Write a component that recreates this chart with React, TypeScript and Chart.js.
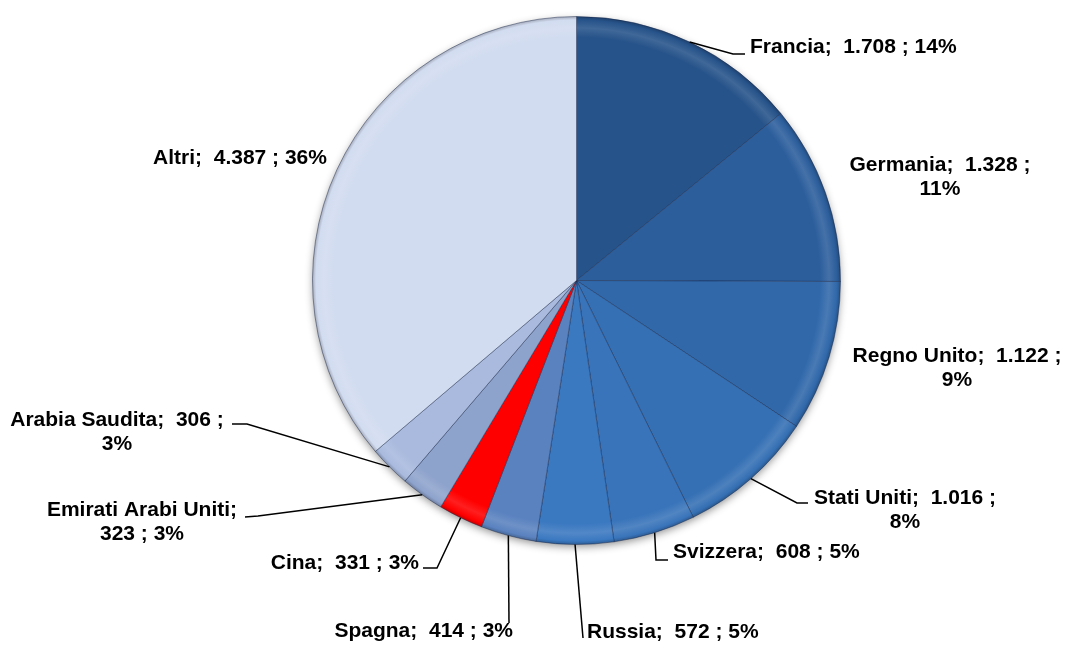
import React, { useEffect, useRef } from "react";
import { Chart, registerables } from "chart.js";

Chart.register(...registerables);

// ---- data ----
const countries = [
  "Francia",
  "Germania",
  "Regno Unito",
  "Stati Uniti",
  "Svizzera",
  "Russia",
  "Spagna",
  "Cina",
  "Emirati Arabi Uniti",
  "Arabia Saudita",
  "Altri",
];
const amounts = [1708, 1328, 1122, 1016, 608, 572, 414, 331, 323, 306, 4387];
const sliceColors = [
  "#26538a",
  "#2c5e9c",
  "#3068aa",
  "#3570b4",
  "#3974ba",
  "#3a78c0",
  "#5a82bf",
  "#ff0000",
  "#8ea3cc",
  "#a9bade",
  "#d2dcf0",
];

// ---- label layout (pixel placement of each data label) ----
// align: l/c/r ; wrap: 0 single line, 1 break before %, 2 break before value
type LabelLayout = {
  x: number;
  y: number;
  align: "left" | "center" | "right";
  wrap: 0 | 1 | 2;
  leader: number[][];
};
const labelLayout: LabelLayout[] = [
  { x: 750, y: 47, align: "left", wrap: 0, leader: [[733, 54], [745, 54]] },
  { x: 940, y: 165, align: "center", wrap: 1, leader: [] },
  { x: 957, y: 356, align: "center", wrap: 1, leader: [] },
  { x: 905, y: 498, align: "center", wrap: 1, leader: [[797, 503], [808, 503]] },
  { x: 673, y: 552, align: "left", wrap: 0, leader: [[656, 560], [668, 560]] },
  { x: 587, y: 632, align: "left", wrap: 0, leader: [[583, 638]] },
  { x: 513, y: 631, align: "right", wrap: 0, leader: [[509, 623]] },
  { x: 419, y: 563, align: "right", wrap: 0, leader: [[437, 568], [423, 568]] },
  { x: 142, y: 510, align: "center", wrap: 2, leader: [[258, 516], [245, 517]] },
  { x: 117, y: 420, align: "center", wrap: 1, leader: [[247, 424], [232, 424]] },
  { x: 240, y: 158, align: "center", wrap: 0, leader: [] },
];

const LABEL_FONT = 'bold 21px "Liberation Sans", Arial, sans-serif';
const LINE_H = 24;

function fmtIt(v: number): string {
  return v.toString().replace(/\B(?=(\d{3})+(?!\d))/g, ".");
}

function shade(hex: string, amt: number): string {
  const n = parseInt(hex.slice(1), 16);
  let r = (n >> 16) & 255,
    g = (n >> 8) & 255,
    b = n & 255;
  if (amt >= 0) {
    r = Math.round(r + (255 - r) * amt);
    g = Math.round(g + (255 - g) * amt);
    b = Math.round(b + (255 - b) * amt);
  } else {
    r = Math.round(r * (1 + amt));
    g = Math.round(g * (1 + amt));
    b = Math.round(b * (1 + amt));
  }
  return `rgb(${r},${g},${b})`;
}

const shadowPlugin = {
  id: "pieShadow",
  beforeDatasetsDraw(chart: any) {
    const meta = chart.getDatasetMeta(0);
    const arc = meta.data[0];
    if (!arc) return;
    const ctx = chart.ctx as CanvasRenderingContext2D;
    ctx.save();
    ctx.shadowColor = "rgba(0,0,0,0.45)";
    ctx.shadowBlur = 9;
    ctx.shadowOffsetX = 0;
    ctx.shadowOffsetY = 3;
    ctx.fillStyle = "#ffffff";
    ctx.beginPath();
    ctx.arc(arc.x, arc.y, arc.outerRadius - 1, 0, Math.PI * 2);
    ctx.fill();
    ctx.restore();
  },
};

const labelPlugin = {
  id: "pieLabels",
  afterDatasetsDraw(chart: any) {
    const meta = chart.getDatasetMeta(0);
    const ctx = chart.ctx as CanvasRenderingContext2D;
    const total = amounts.reduce((a, b) => a + b, 0);
    ctx.save();
    ctx.font = LABEL_FONT;
    ctx.fillStyle = "#000";
    ctx.strokeStyle = "#000";
    ctx.lineWidth = 1.5;
    ctx.textBaseline = "middle";
    meta.data.forEach((arc: any, i: number) => {
      const lay = labelLayout[i];
      const pct = Math.round((amounts[i] / total) * 100) + "%";
      const namePart = countries[i] + ";";
      const valPart = fmtIt(amounts[i]) + " ;";
      let lines: string[];
      if (lay.wrap === 0) lines = [namePart + "  " + valPart + " " + pct];
      else if (lay.wrap === 1) lines = [namePart + "  " + valPart, pct];
      else lines = [namePart, valPart + " " + pct];

      // leader line
      if (lay.leader.length) {
        const mid = (arc.startAngle + arc.endAngle) / 2;
        const px = arc.x + Math.cos(mid) * arc.outerRadius;
        const py = arc.y + Math.sin(mid) * arc.outerRadius;
        ctx.beginPath();
        ctx.moveTo(px, py);
        lay.leader.forEach((p) => ctx.lineTo(p[0], p[1]));
        ctx.stroke();
      }
      ctx.textAlign = lay.align;
      lines.forEach((t, k) => {
        ctx.fillText(t, lay.x, lay.y + k * LINE_H);
      });
    });
    ctx.restore();
  },
};

export default function App() {
  const ref = useRef<HTMLCanvasElement | null>(null);
  useEffect(() => {
    if (!ref.current) return;
    const chart = new Chart(ref.current, {
      type: "pie",
      data: {
        labels: countries,
        datasets: [
          {
            data: amounts,
            backgroundColor: (c: any) => {
              const base = sliceColors[c.dataIndex];
              const area = c.chart.chartArea;
              if (!area) return base;
              const cx = (area.left + area.right) / 2;
              const cy = (area.top + area.bottom) / 2;
              const r = Math.min(area.right - area.left, area.bottom - area.top) / 2;
              const g = c.chart.ctx.createRadialGradient(cx, cy, 0, cx, cy, r);
              g.addColorStop(0, base);
              g.addColorStop(0.92, base);
              g.addColorStop(0.955, shade(base, 0.12));
              g.addColorStop(0.985, base);
              g.addColorStop(1, shade(base, -0.25));
              return g;
            },
            borderColor: "rgba(20,35,70,0.45)",
            borderWidth: 1,
          },
        ],
      },
      options: {
        animation: false,
        responsive: true,
        maintainAspectRatio: false,
        layout: { padding: { left: 312, right: 225, top: 16, bottom: 105 } },
        plugins: {
          legend: { display: false },
          tooltip: { enabled: false },
        },
      },
      plugins: [shadowPlugin, labelPlugin],
    });
    return () => chart.destroy();
  }, []);

  return (
    <div
      style={{
        position: "fixed",
        left: 0,
        top: 0,
        width: 1066,
        height: 650,
        background: "#fff",
      }}
    >
      <canvas ref={ref} />
    </div>
  );
}
